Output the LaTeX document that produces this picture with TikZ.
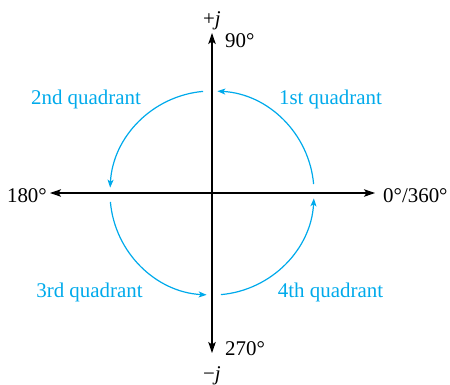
\documentclass[tikz,border=0pt]{standalone}
\usepackage{fontspec}
\setmainfont{Liberation Serif}
\usetikzlibrary{arrows.meta}
\definecolor{quadblue}{RGB}{0,170,235}
\begin{document}
\begin{tikzpicture}[x=1bp,y=1bp,
  axis/.style={line width=1.1bp,black,{Stealth[length=11bp,width=7.5bp,inset=2.5bp]}-{Stealth[length=11bp,width=7.5bp,inset=2.5bp]}},
  quad/.style={line width=1.2bp,quadblue,-{Stealth[length=8bp,width=6bp,inset=2bp]}},
  lab/.style={inner sep=0pt,font=\fontsize{21}{25}\selectfont},
  qlab/.style={lab,text=quadblue,anchor=base}]
\useasboundingbox (0,0) rectangle (450,384);
\coordinate (O) at (212,191);
\coordinate (W) at (50,191);
\coordinate (E) at (375,191);
\coordinate (N) at (212,351);
\coordinate (S) at (212,31);
\draw[axis] (W) -- (E);
\draw[axis] (S) -- (N);
\foreach \a in {0,90,180,270}{
  \draw[quad] ([shift={(\a+5:102)}]O) arc[start angle=\a+5, end angle=\a+87, radius=102];
}
\node[lab,anchor=base] (pj) at (212,359) {+\textit{j}};
\node[lab,anchor=base west] (d90) at (225,337) {90°};
\node[lab,anchor=base west] (d270) at (225,29) {270°};
\node[lab,anchor=base] (mj) at (212,4) {−\textit{j}};
\node[lab,anchor=base east] (d180) at (47,182) {180°};
\node[lab,anchor=base west] (d0) at (383,182) {0°/360°};
\node[qlab] (q1) at (330.5,280) {1st quadrant};
\node[qlab] (q2) at (86,280) {2nd quadrant};
\node[qlab] (q3) at (89.5,87) {3rd quadrant};
\node[qlab] (q4) at (330.5,87) {4th quadrant};
\end{tikzpicture}
\end{document}
